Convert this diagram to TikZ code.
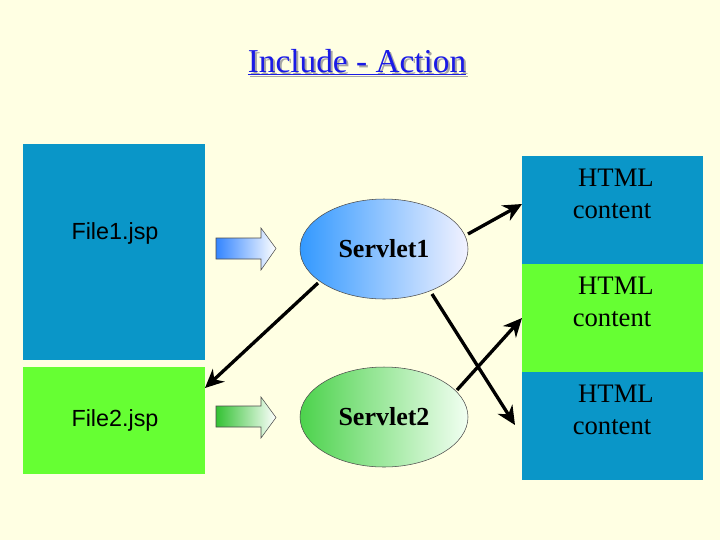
\documentclass[tikz,border=0pt]{standalone}
\usepackage{fontspec}
\setmainfont{Liberation Serif}
\newfontfamily\sansf{Liberation Sans}
\usetikzlibrary{shapes.geometric,arrows.meta}
\definecolor{bg}{HTML}{FFFFE3}
\definecolor{fblue}{HTML}{0A96C8}
\definecolor{fgreen}{HTML}{66FF33}
\definecolor{tblue}{HTML}{1A1AE6}
\begin{document}
\begin{tikzpicture}[x=0.75pt,y=-0.75pt,
  ftxt/.style={font=\sansf\fontsize{17.5}{20}\selectfont},
  htxt/.style={font=\fontsize{20}{24}\selectfont,align=center},
  barrow/.style={draw=black!70,line width=0.4pt,shading=axis,shading angle=90},
  serv/.style={ellipse,draw=black!70,line width=0.4pt,minimum width=126pt,minimum height=75pt,inner sep=0,font=\bfseries\fontsize{19.5}{23}\selectfont},
  con/.style={line width=2.5pt,-{Stealth[length=14pt,width=13pt]}}]
\fill[bg] (0,0) rectangle (720,540);
\node[font=\fontsize{25}{30}\selectfont,text=black!35] at (359,64) {\underline{Include - Action}};
\node (title)[font=\fontsize{25}{30}\selectfont,text=tblue] at (357,62) {\underline{Include - Action}};
\fill[fblue] (23,144) rectangle (205,360);
\node (f1) at (115,233)[ftxt]{File1.jsp};
\fill[fgreen] (23,367) rectangle (205,474);
\node (f2) at (115,420)[ftxt]{File2.jsp};
\coordinate (f2c) at (205,388);
\fill[fblue] (522,156) rectangle (703,264);
\fill[fgreen] (522,264) rectangle (703,372);
\fill[fblue] (522,372) rectangle (703,480);
\node (h1) at (612,194)[htxt]{\hspace*{6pt}HTML\\content};
\node (h2) at (612,302)[htxt]{\hspace*{6pt}HTML\\content};
\node (h3) at (612,410)[htxt]{\hspace*{6pt}HTML\\content};
\path[barrow,left color=blue!60!cyan!80,right color=white] (216,238) -- (261,238) -- (261,228) -- (276,248.5) -- (261,270) -- (261,259) -- (216,259) -- cycle;
\path[barrow,left color=green!70!black!80,right color=white] (216,406) -- (261,406) -- (261,397) -- (276,417.5) -- (261,438) -- (261,427) -- (216,427) -- cycle;
\node (s1) at (384,249)[serv,shading=axis,shading angle=135,left color=blue!50!cyan!80!white,right color=blue!5]{Servlet1};
\node (s2) at (384,417)[serv,shading=axis,shading angle=135,left color=green!75!black!70,right color=green!5]{Servlet2};
\coordinate (t1) at (522,204);
\coordinate (t2) at (522,318);
\coordinate (t3) at (515,425);
\draw[con] (468,234) -- (t1);
\draw[con] (318,283) -- (f2c);
\draw[con] (432,294) -- (t3);
\draw[con] (457,390) -- (t2);
\end{tikzpicture}
\end{document}
